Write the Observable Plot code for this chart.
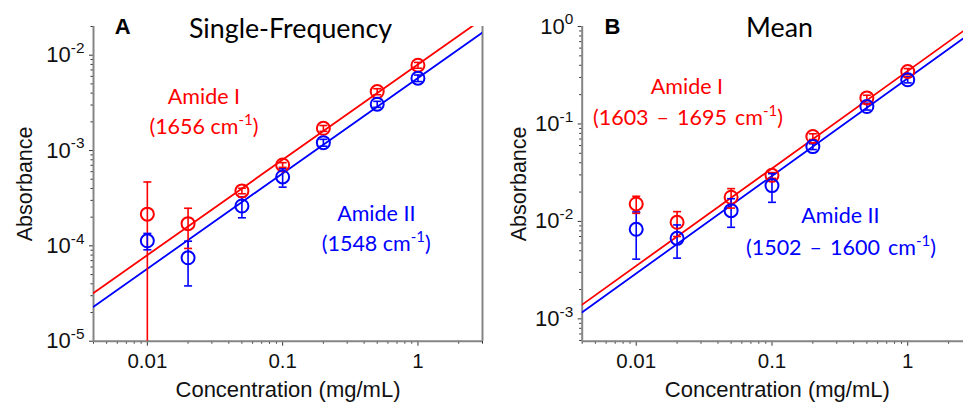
<!DOCTYPE html>
<html><head><meta charset="utf-8">
<script src="https://cdn.jsdelivr.net/npm/d3@7"></script>
<script src="https://cdn.jsdelivr.net/npm/@observablehq/plot@0.6"></script>
<style>
html,body{margin:0;padding:0;background:#fff;overflow:hidden;}
#wrap{position:relative;width:963px;height:402px;overflow:hidden;}
#wrap>div{position:absolute;top:0;width:490px;height:402px;}
#wrap svg{max-width:none !important;width:490px;height:402px;display:block;}
</style></head><body>
<div id="wrap"><div id="a" style="left:0"></div><div id="b" style="left:490px"></div></div>
<script>
// ---- data ----
const conc = [0.01, 0.02, 0.05, 0.1, 0.2, 0.5, 1];
const singleAmideI     = [2.15e-4, 1.71e-4, 3.77e-4, 7.06e-4, 1.71e-3, 4.15e-3, 7.85e-3];
const singleAmideIErr  = [2.53e-4, 0.77e-4, 0.25e-4, 0.40e-4, 0.12e-3, 0.30e-3, 0.55e-3];
const singleAmideII    = [1.13e-4, 7.5e-5, 2.62e-4, 5.28e-4, 1.21e-3, 3.06e-3, 5.74e-3];
const singleAmideIIErr = [0.22e-4, 3.7e-5, 0.65e-4, 1.15e-4, 0.10e-3, 0.22e-3, 0.45e-3];
const meanAmideI       = [0.0151, 0.0098, 0.0177, 0.0297, 0.0743, 0.185, 0.345];
const meanAmideIErr    = [0.0030, 0.0028, 0.0040, 0.0020, 0.0050, 0.012, 0.025];
const meanAmideII      = [0.0083, 0.0067, 0.0129, 0.0233, 0.0586, 0.151, 0.284];
const meanAmideIIErr   = [0.0042, 0.0025, 0.0042, 0.0076, 0.0040, 0.012, 0.020];
// fitted lines (end points read at the axis limits)
const fitConc = [0.004, 3];
const singleFitAmideI  = [3.2e-5, 0.024];
const singleFitAmideII = [2.3e-5, 0.0173];
const meanFitAmideI    = [1.4e-3, 1.05];
const meanFitAmideII   = [1.17e-3, 0.88];
// ticks
const xTicks = [0.01, 0.1, 1];
const xTickLabels = ["0.01", "0.1", "1"];
const yTicksSingle = [1e-5, 1e-4, 1e-3, 1e-2];
const yTicksMean = [1e-3, 1e-2, 1e-1, 1];
const yTickExp = {1e-5: "-5", 1e-4: "-4", 1e-3: "-3", 1e-2: "-2", 1e-1: "-1", 1: "0"};
const xAxisTitle = "Concentration (mg/mL)";
const yAxisTitle = "Absorbance";
// annotations
const singleLabels = [
  {x: 0.0262, y: 0.00311, text: "Amide I", series: "I"},
  {x: 0.0262, y: 0.00149, text: "(1656 cm^{-1})", series: "I"},
  {x: 0.492, y: 1.82e-4, text: "Amide II", series: "II"},
  {x: 0.492, y: 8.83e-5, text: "(1548 cm^{-1})", series: "II"}
];
const meanLabels = [
  {x: 0.02366, y: 0.2038, text: "Amide I", series: "I"},
  {x: 0.02404, y: 0.0986, text: "(1603 – 1695 cm^{-1})", series: "I"},
  {x: 0.3194, y: 0.00956, text: "Amide II", series: "II"},
  {x: 0.3222, y: 0.00456, text: "(1502 – 1600 cm^{-1})", series: "II"}
];

const RED = "#ff0000", BLUE = "#0000ff";
const AXIS = "#858585", TICK = "#333333";
const ARIAL = "'Liberation Sans', Arial, sans-serif";
const capSymbol = {draw(ctx) { ctx.moveTo(-4, 0); ctx.lineTo(4, 0); }};

function minorTicks(lo, hi) {
  const out = [];
  for (let e = Math.floor(Math.log10(lo)) - 1; e <= Math.ceil(Math.log10(hi)); e++)
    for (let m = 2; m <= 9; m++) { const v = m * Math.pow(10, e); if (v >= lo * 0.999 && v <= hi * 1.001) out.push(v); }
  return out;
}

function fontSizeOf(t) {
  let el = t;
  while (el && el.getAttribute) {
    const a = el.getAttribute("font-size") || (el.style && el.style.fontSize);
    if (a) return parseFloat(a);
    el = el.parentNode;
  }
  return 20;
}

function supify(svg) {
  const ns = "http://www.w3.org/2000/svg";
  svg.querySelectorAll("text").forEach(t => {
    if (t.querySelector("tspan")) return;
    const s = t.textContent;
    if (s.includes("–")) t.setAttribute("word-spacing", "2.5");
    const m = s.match(/^(.*)\^\{(.*?)\}(.*)$/);
    if (!m) return;
    const fs = fontSizeOf(t);
    t.textContent = "";
    t.appendChild(document.createTextNode(m[1]));
    const sup = document.createElementNS(ns, "tspan");
    sup.setAttribute("font-size", (fs * 0.7).toFixed(1));
    sup.setAttribute("dy", (-fs * 0.42).toFixed(1));
    sup.textContent = m[2];
    t.appendChild(sup);
    if (m[3]) {
      const rest = document.createElementNS(ns, "tspan");
      rest.setAttribute("dy", (fs * 0.42).toFixed(1));
      rest.textContent = m[3];
      t.appendChild(rest);
    }
  });
}

function panel(o) {
  const rows = (vals, errs, series) => conc.map((c, i) => ({c, v: vals[i], e: errs[i], series}));
  const data = [...rows(o.amideI, o.amideIErr, "I"), ...rows(o.amideII, o.amideIIErr, "II")];
  const fits = [
    ...fitConc.map((c, i) => ({c, v: o.fitI[i], series: "I"})),
    ...fitConc.map((c, i) => ({c, v: o.fitII[i], series: "II"}))
  ];
  const xDomain = [0.004, 3];
  const plot = Plot.plot({
    width: 490, height: 402,
    marginLeft: o.marginLeft, marginRight: 8, marginTop: 26, marginBottom: 61.3,
    style: {fontFamily: ARIAL, fontSize: "21px", background: "transparent", overflow: "visible", maxWidth: "none"},
    x: {type: "log", domain: xDomain},
    y: {type: "log", domain: o.yDomain},
    color: {domain: ["I", "II"], range: [RED, BLUE]},
    marks: [
      Plot.axisX(minorTicks(xDomain[0], xDomain[1]), {tickSize: 3, tickFormat: () => "", stroke: TICK, label: null}),
      Plot.axisX(xTicks, {tickSize: 5, tickPadding: 7, tickFormat: d => xTickLabels[xTicks.indexOf(d)], stroke: TICK, fill: "#111", fontSize: 20.5, label: null}),
      Plot.axisY(minorTicks(o.yDomain[0], o.yDomain[1]), {tickSize: 2.5, tickFormat: () => "", stroke: TICK, label: null}),
      Plot.axisY(o.yTicks, {tickSize: 4, tickPadding: 5, tickFormat: d => "10^{" + yTickExp[d] + "}", stroke: TICK, fill: "#111", fontSize: 22, label: null}),
      Plot.text([xAxisTitle], {text: d => d, frameAnchor: "bottom", dy: 56, lineAnchor: "bottom", fontSize: 22, fill: "#111", fontFamily: ARIAL}),
      Plot.text([yAxisTitle], {text: d => d, frameAnchor: "left", dx: o.yTitleDx, rotate: -90, lineAnchor: "bottom", textAnchor: "middle", fontSize: 21.5, fill: "#111", fontFamily: ARIAL}),
      Plot.ruleX([xDomain[0]], {stroke: AXIS, strokeWidth: 2}),
      Plot.ruleX([xDomain[1]], {stroke: AXIS, strokeWidth: 2}),
      Plot.ruleY([o.yDomain[0]], {stroke: AXIS, strokeWidth: 2}),
      Plot.line(fits, {x: "c", y: "v", z: "series", stroke: "series", strokeWidth: 1.8, clip: true}),
      Plot.ruleX(data, {x: "c", y1: d => Math.max(d.v - d.e, 1e-12), y2: d => d.v + d.e, stroke: "series", strokeWidth: 1.6, clip: true}),
      Plot.dot(data, {x: "c", y: d => d.v + d.e, symbol: capSymbol, stroke: "series", strokeWidth: 1.6}),
      Plot.dot(data.filter(d => d.v - d.e > 0), {x: "c", y: d => d.v - d.e, symbol: capSymbol, stroke: "series", strokeWidth: 1.6}),
      Plot.dot(data, {x: "c", y: "v", r: 6.5, stroke: "series", strokeWidth: 2, fill: "none"}),
      Plot.text(o.labels, {x: "x", y: "y", text: "text", fill: "series", fontFamily: "Lato, sans-serif", fontSize: 21.5, lineAnchor: "bottom", textAnchor: "middle"}),
      Plot.text([o.title], {x: "x", y: "y", text: "text", fill: "#000", fontFamily: "Lato, sans-serif", fontSize: 26.8, lineAnchor: "bottom", textAnchor: "middle"}),
      Plot.text([o.letter], {x: "x", y: "y", text: "text", fill: "#000", fontFamily: ARIAL, fontWeight: "bold", fontSize: 22, lineAnchor: "bottom", textAnchor: "start"})
    ]
  });
  supify(plot);
  return plot;
}

document.getElementById("a").appendChild(panel({
  amideI: singleAmideI, amideIErr: singleAmideIErr, amideII: singleAmideII, amideIIErr: singleAmideIIErr,
  fitI: singleFitAmideI, fitII: singleFitAmideII,
  yDomain: [1e-5, 0.02], yTicks: yTicksSingle, marginLeft: 93, yTitleDx: -61.5,
  labels: singleLabels,
  title: {x: 0.1143, y: 0.0153, text: "Single-Frequency"},
  letter: {x: 0.00574, y: 0.0167, text: "A"}
}));
document.getElementById("b").appendChild(panel({
  amideI: meanAmideI, amideIErr: meanAmideIErr, amideII: meanAmideII, amideIIErr: meanAmideIIErr,
  fitI: meanFitAmideI, fitII: meanFitAmideII,
  yDomain: [5.9e-4, 1], yTicks: yTicksMean, marginLeft: 91.7, yTitleDx: -56,
  labels: meanLabels,
  title: {x: 0.1136, y: 0.777, text: "Mean"},
  letter: {x: 0.00584, y: 0.847, text: "B"}
}));
</script>
</body></html>
